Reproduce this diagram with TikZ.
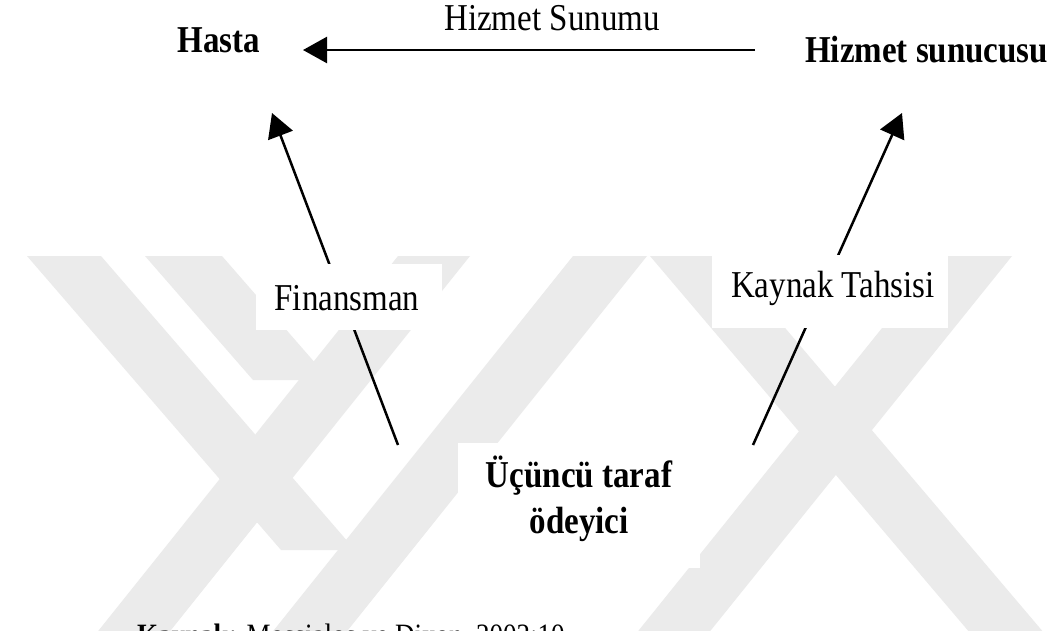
\documentclass[tikz,border=0pt]{standalone}
\usepackage{fontspec}
\setmainfont{Liberation Serif}
\usetikzlibrary{arrows.meta}
\definecolor{wm}{HTML}{EBEBEB}
\newcommand{\bigtxt}{\fontsize{33}{46}\selectfont}
\newcommand{\smtxt}{\fontsize{27}{32}\selectfont}
\newcommand{\vstr}[1]{\scalebox{1}[1.15]{#1}}
\tikzset{
  lbl/.style={inner sep=0pt, font=\bigtxt},
  wbox/.style={fill=white, draw=none, inner sep=0pt, minimum width=#1},
  arr/.style={line width=2.5pt, -{Triangle[length=24pt,width=26pt]}},
  band/.style={fill=wm, draw=none}
}
\begin{document}
\begin{tikzpicture}[x=1pt,y=-1pt]
\useasboundingbox (0,0) rectangle (1052,630);
\clip (0,0) rectangle (1052,630);
\fill[white] (0,0) rectangle (1052,630);
% watermark (approximate)
\fill[band] (27,256) -- (101,256) -- (355,550) -- (281,550) -- cycle;
\fill[band] (145,256) -- (222,256) -- (330,380) -- (253,380) -- cycle;
\fill[band] (398,256) -- (470,256) -- (163,640) -- (91,640) -- cycle;
\fill[band] (573,256) -- (647,256) -- (340,640) -- (266,640) -- cycle;
\fill[band] (650,256) -- (724,256) -- (1050,640) -- (976,640) -- cycle;
\fill[band] (940,256) -- (1012,256) -- (703,640) -- (631,640) -- cycle;
% coordinates for connectors
\coordinate (hsStart) at (755,50);
\coordinate (hsEnd) at (303,50);
\coordinate (finLow) at (398,445);
\coordinate (finTip) at (272,113);
\coordinate (kayLow) at (753,445);
\coordinate (kayTip) at (902,113);
% connectors
\draw[arr] (hsStart) -- (hsEnd);
\draw[arr] (finLow) -- (finTip);
\draw[arr] (kayLow) -- (kayTip);
% boxes
\node[wbox=186pt, minimum height=66pt] (finbox) at (349,297) {};
\node[lbl, anchor=base] (fin) at (347,310) {\vstr{Finansman}};
\node[wbox=236pt, minimum height=73pt] (kaybox) at (830,291.5) {};
\node[lbl, anchor=base] (kay) at (833,297) {\vstr{Kaynak Tahsisi}};
\node[wbox=242pt, minimum height=125pt] (ucbox) at (579,505.5) {};
\node[lbl, anchor=base] (uc1) at (579,487) {\vstr{\bfseries Üçüncü taraf}};
\node[lbl, anchor=base] (uc2) at (579,533) {\vstr{\bfseries ödeyici}};
% top texts
\node[lbl, anchor=base] (hasta) at (219,52) {\vstr{\bfseries Hasta}};
\node[lbl, anchor=base west] (sunucu) at (805,62) {\vstr{\bfseries Hizmet sunucusu}};
\node[lbl, anchor=base] (sunum) at (552,30) {\vstr{Hizmet Sunumu}};
% source line (cut off at the bottom, as in the reference)
\node[inner sep=0pt, font=\smtxt, anchor=base west] (kaynak) at (137,645) {\vstr{\textbf{Kaynak:} Mossialos ve Dixon, 2002:10}};
\end{tikzpicture}
\end{document}
